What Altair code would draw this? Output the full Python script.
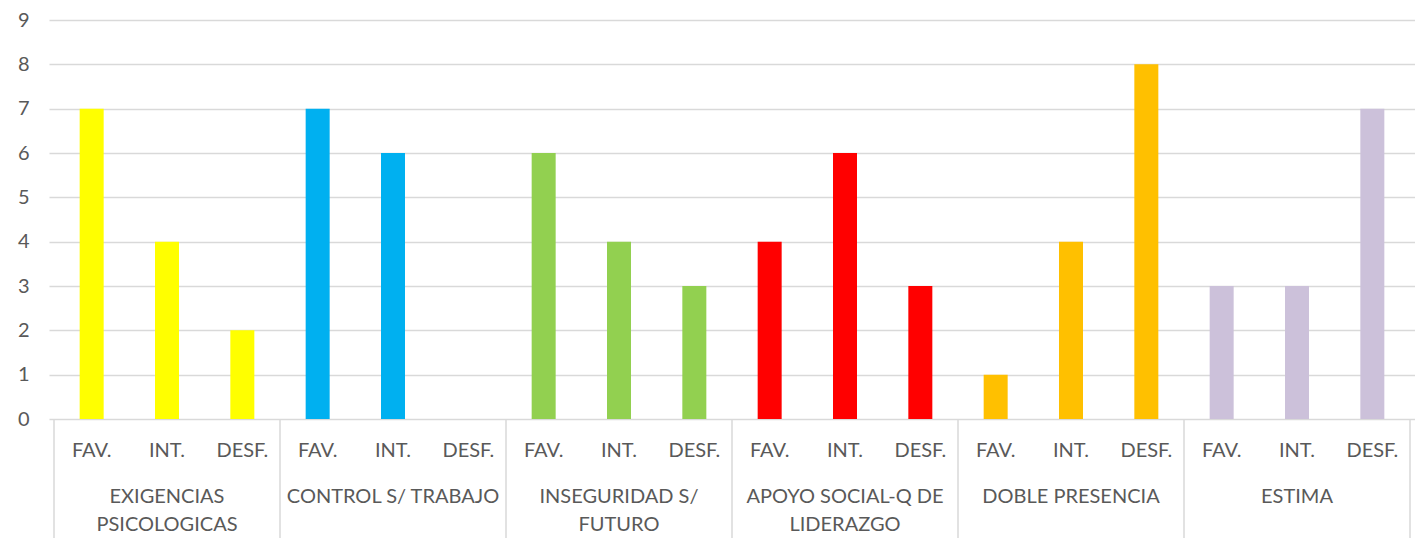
import altair as alt
import pandas as pd

groups = ["EXIGENCIAS\nPSICOLOGICAS", "CONTROL S/ TRABAJO", "INSEGURIDAD S/\nFUTURO",
          "APOYO SOCIAL-Q DE\nLIDERAZGO", "DOBLE PRESENCIA", "ESTIMA"]
levels = ["FAV.", "INT.", "DESF."]
fav = [7, 7, 6, 4, 1, 3]
int_ = [4, 6, 4, 6, 4, 3]
desf = [2, 0, 3, 3, 8, 7]
colors = ["#FFFF00", "#00B0F0", "#92D050", "#FF0000", "#FFC000", "#CCC1DA"]

rows = []
for g, name in enumerate(groups):
    for i, (lvl, vals) in enumerate(zip(levels, [fav, int_, desf])):
        rows.append({"pos": g * 3 + i + 0.5, "level": lvl, "group": name,
                     "value": vals[g], "color": colors[g]})
df = pd.DataFrame(rows)
gdf = pd.DataFrame({"pos": [g * 3 + 1.5 for g in range(len(groups))], "group": groups})
sdf = pd.DataFrame({"pos": [g * 3 for g in range(len(groups) + 1)]})

W, H = 1366, 399
FONT = "Lato"
TXT = "#595959"
FS = 20
BOTTOM = 119

xs = alt.Scale(domain=[0, 18], range=[0, W], nice=False, zero=False)
ys = alt.Scale(domain=[0, 9], nice=False)

bars = alt.Chart(df).mark_bar(size=24).encode(
    x=alt.X("pos:Q", scale=xs, axis=None),
    y=alt.Y("value:Q", scale=ys, axis=alt.Axis(
        values=list(range(10)), grid=True, gridColor="#D9D9D9", gridWidth=1.5,
        domain=False, ticks=False, labelFont=FONT, labelFontSize=FS,
        labelColor=TXT, labelPadding=20, title=None)),
    color=alt.Color("color:N", scale=None),
)

lvl_text = alt.Chart(df).mark_text(font=FONT, fontSize=FS, color=TXT, baseline="middle").encode(
    x=alt.X("pos:Q", scale=xs), y=alt.value(H + 32), text="level:N")

grp_text = alt.Chart(gdf).mark_text(font=FONT, fontSize=FS, color=TXT, lineBreak="\n",
                                    lineHeight=28, baseline="middle").encode(
    x=alt.X("pos:Q", scale=xs), y=alt.value(H + 78), text="group:N")

seps = alt.Chart(sdf).mark_rule(color="#D9D9D9", strokeWidth=1.5).encode(
    x=alt.X("pos:Q", scale=xs), y=alt.value(H), y2=alt.value(H + BOTTOM))

chart = alt.layer(bars, seps, lvl_text, grp_text).properties(
    width=W, height=H, autosize=alt.AutoSizeParams(type="none"),
    padding={"left": 41, "top": 12, "right": 0, "bottom": BOTTOM},
).configure_view(stroke=None)

chart.save("out.html", embed_options={"renderer": "svg", "actions": False})
